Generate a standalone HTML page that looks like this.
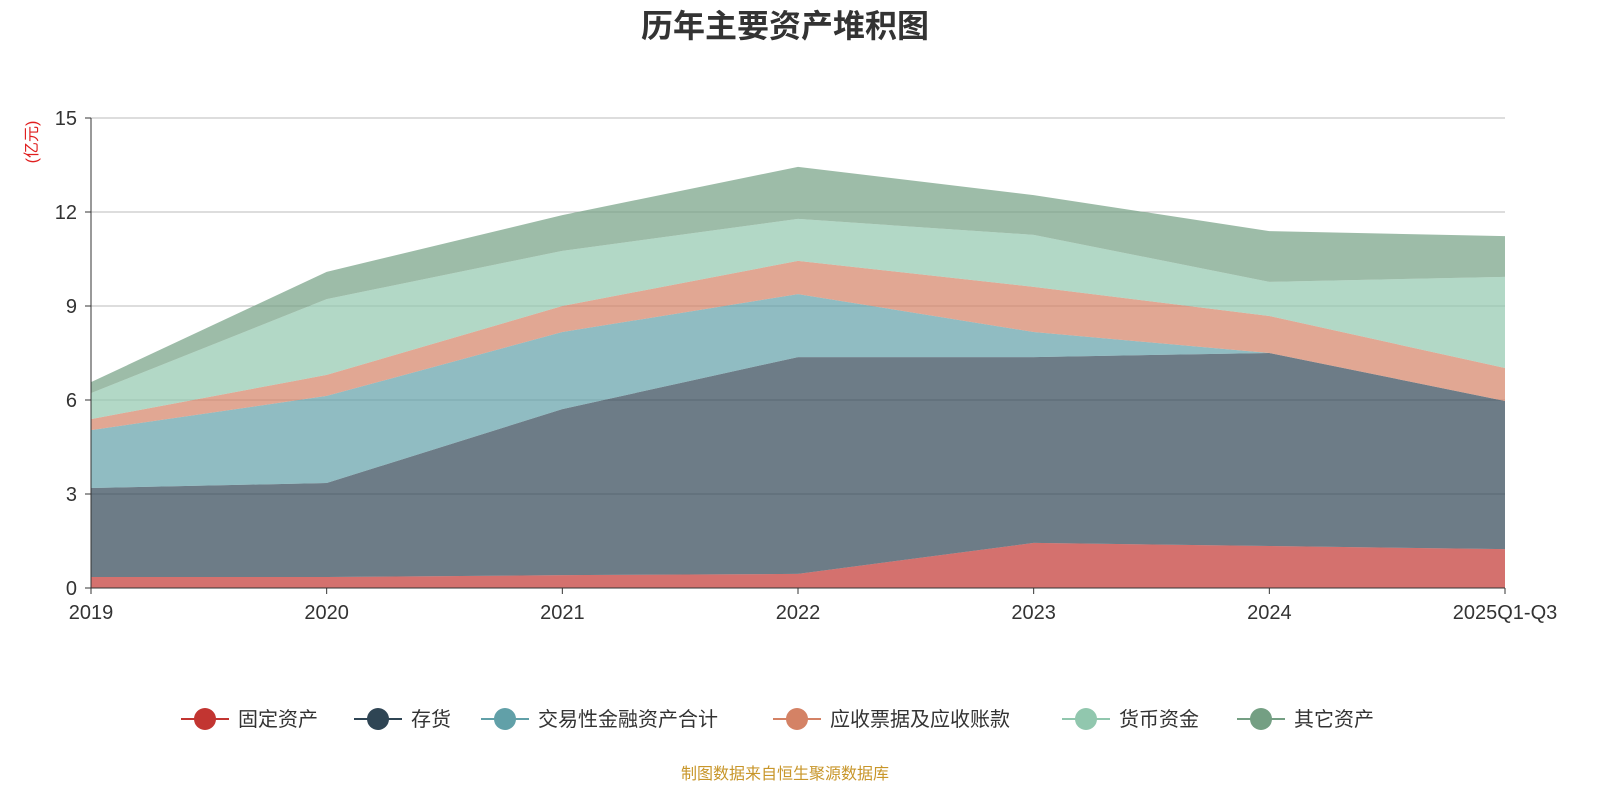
<!DOCTYPE html>
<html><head><meta charset="utf-8"><style>
body{margin:0;background:#fff;}
svg text{font-family:"Liberation Sans","Noto Sans CJK SC",sans-serif;}
</style></head><body>
<svg id="c" width="1600" height="800">
<text x="785" y="37" text-anchor="middle" font-size="32" font-weight="bold" fill="#333">历年主要资产堆积图</text>
<text transform="translate(37,142) rotate(-90)" text-anchor="middle" font-size="16" fill="#e02020">(亿元)</text>
<g id="grid"></g>
<g id="areas"></g>
<g id="axes"></g>
<g id="legend"></g>
<text x="785" y="779" text-anchor="middle" font-size="16" fill="#c8962a">制图数据来自恒生聚源数据库</text>
</svg>
<script>
const categories=["2019","2020","2021","2022","2023","2024","2025Q1-Q3"];
const seriesNames=["固定资产","存货","交易性金融资产合计","应收票据及应收账款","货币资金","其它资产"];
const fixedAssets=[0.35,0.35,0.41,0.45,1.44,1.34,1.24];
const inventory=[2.84,3.0,5.3,6.92,5.93,6.16,4.73];
const tradingAssets=[1.85,2.78,2.46,2.01,0.8,0,0];
const receivables=[0.35,0.67,0.83,1.06,1.44,1.18,1.05];
const cash=[0.83,2.42,1.76,1.34,1.66,1.09,2.91];
const otherAssets=[0.35,0.87,1.14,1.66,1.27,1.62,1.30];
const yTicks=[0,3,6,9,12,15];
const colors=["#c23531","#2f4554","#61a0a8","#d48265","#91c7ae","#749f83"];
const NS="http://www.w3.org/2000/svg";
const x0=91,x1=1505,y0=588,y1=118,yMax=15;
const X=i=>x0+i*(x1-x0)/(categories.length-1);
const Y=v=>y0-v*(y0-y1)/yMax;
function mk(t,a,p){const e=document.createElementNS(NS,t);for(const k in a)e.setAttribute(k,a[k]);p.appendChild(e);return e;}
const grid=document.getElementById('grid'),areas=document.getElementById('areas'),axes=document.getElementById('axes'),legend=document.getElementById('legend');
yTicks.forEach(t=>{
  if(t>0){const l=mk('line',{x1:x0,x2:x1,y1:Y(t),y2:Y(t),stroke:'#bbb','stroke-width':1},grid);
  
  }
  const tx=mk('text',{x:x0-14,y:Y(t)+7,'text-anchor':'end','font-size':20,fill:'#333'},axes);tx.textContent=t;
  
  
  mk('line',{x1:x0-6,x2:x0,y1:Y(t),y2:Y(t),stroke:'#333'},axes);
});
const data=[fixedAssets,inventory,tradingAssets,receivables,cash,otherAssets];
let base=categories.map(()=>0);
data.forEach((s,si)=>{
  const top=base.map((b,i)=>b+s[i]);
  let d='M'+top.map((v,i)=>X(i)+','+Y(v)).join('L');
  for(let i=categories.length-1;i>=0;i--)d+='L'+X(i)+','+Y(base[i]);
  const p=mk('path',{d:d+'Z',fill:colors[si],'fill-opacity':0.7,stroke:'none'},areas);
  
  
  base=top;
});
mk('line',{x1:x0,x2:x0,y1:y1,y2:y0,stroke:'#333'},axes);
mk('line',{x1:x0,x2:x1,y1:y0,y2:y0,stroke:'#333'},axes);
categories.forEach((c,i)=>{
  mk('line',{x1:X(i),x2:X(i),y1:y0,y2:y0+6,stroke:'#333'},axes);
  const t=mk('text',{x:X(i),y:y0+31,'text-anchor':'middle','font-size':20,fill:'#333'},axes);t.textContent=c;
  
  
});
const lx=[181,354,481,773,1062,1237];
seriesNames.forEach((n,i)=>{
  const g=mk('g',{},legend);
  
  
  mk('line',{x1:lx[i],x2:lx[i]+48,y1:719,y2:719,stroke:colors[i],'stroke-width':2},g);
  mk('circle',{cx:lx[i]+24,cy:719,r:11,fill:colors[i]},g);
  const t=mk('text',{x:lx[i]+57,y:726,'font-size':20,fill:'#333'},g);t.textContent=n;
});
</script>
</body></html>
